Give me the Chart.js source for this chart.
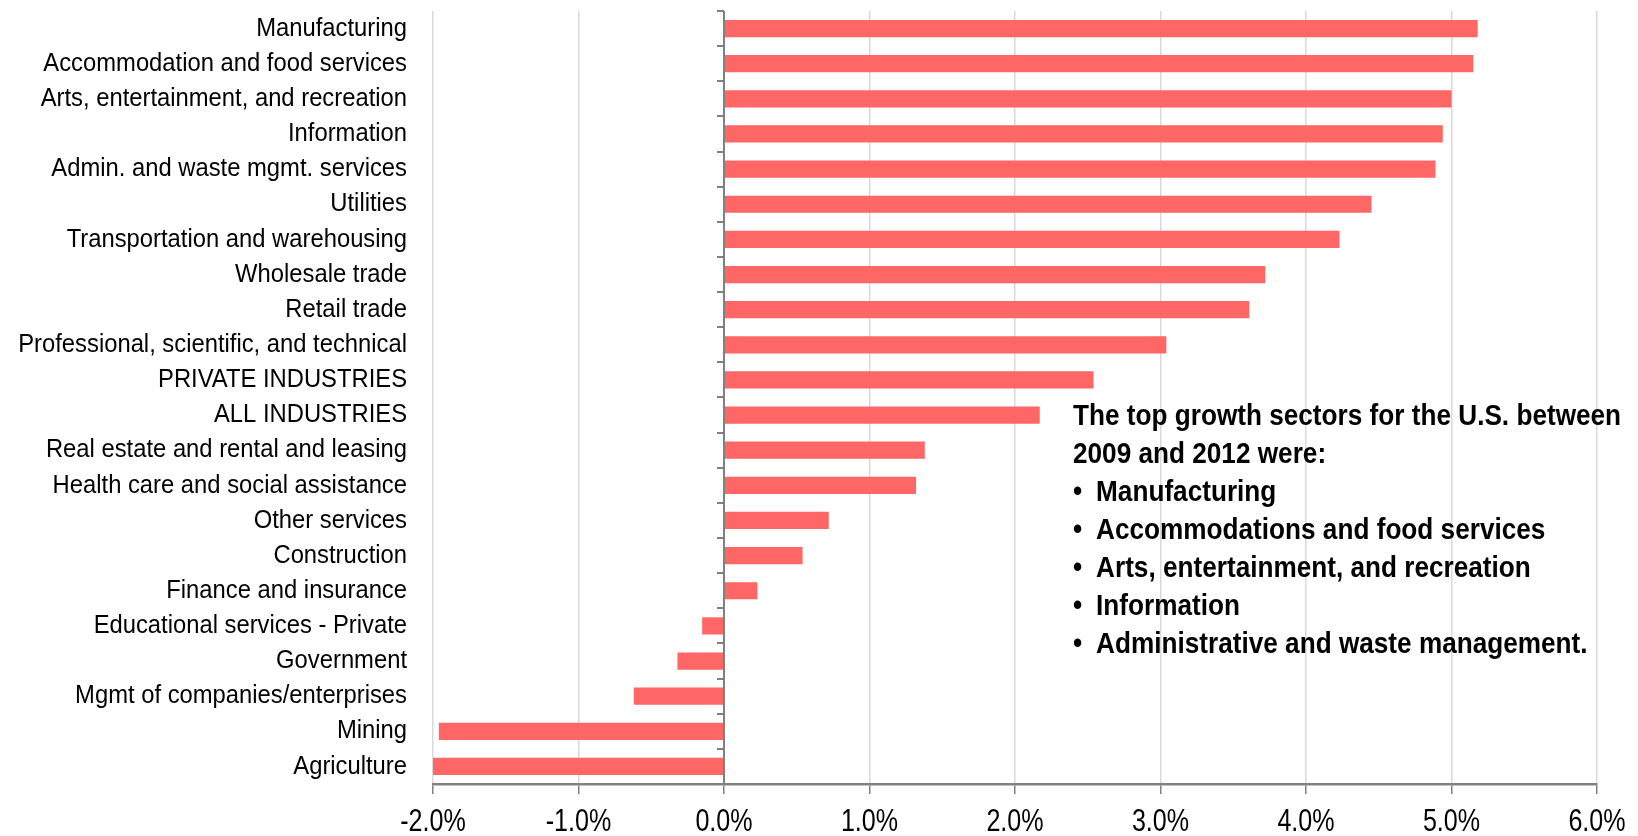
<!DOCTYPE html>
<html>
<head>
<meta charset="utf-8">
<script src="https://cdn.jsdelivr.net/npm/chart.js@4/dist/chart.umd.min.js"></script>
<style>
  html, body { margin: 0; padding: 0; background: #fff; }
  #wrap { position: relative; width: 1638px; height: 836px; }
  #note {
    position: absolute; left: 1073px; top: 396px;
    font-family: "Liberation Sans", Arial, sans-serif;
    font-weight: bold; font-size: 29.5px; line-height: 38px; color: #000;
    white-space: nowrap;
    transform: scaleX(0.887); transform-origin: 0 0;
  }
  #note ul { margin: 0; padding: 0; list-style: none; }
  #note li::before { content: "\2022"; display: inline-block; width: 26px; }
</style>
</head>
<body>
<div id="wrap">
  <canvas id="c"></canvas>
  <div id="note">
    The top growth sectors for the U.S. between<br>
    2009 and 2012 were:
    <ul>
      <li>Manufacturing</li>
      <li>Accommodations and food services</li>
      <li>Arts, entertainment, and recreation</li>
      <li>Information</li>
      <li>Administrative and waste management.</li>
    </ul>
  </div>
</div>
<script>
// Real GDP growth by industry, 2009-2012 (percent)
const sectors = [
  "Manufacturing",
  "Accommodation and food services",
  "Arts, entertainment, and recreation",
  "Information",
  "Admin. and waste mgmt. services",
  "Utilities",
  "Transportation and warehousing",
  "Wholesale trade",
  "Retail trade",
  "Professional, scientific, and technical",
  "PRIVATE INDUSTRIES",
  "ALL INDUSTRIES",
  "Real estate and rental and leasing",
  "Health care and social assistance",
  "Other services",
  "Construction",
  "Finance and insurance",
  "Educational services - Private",
  "Government",
  "Mgmt of companies/enterprises",
  "Mining",
  "Agriculture"
];
const growth = [
  5.18, 5.15, 5.00, 4.94, 4.89, 4.45, 4.23, 3.72, 3.61, 3.04, 2.54,
  2.17, 1.38, 1.32, 0.72, 0.54, 0.23, -0.15, -0.32, -0.62, -1.96, -2.00
];
const xMin = -2, xMax = 6, xStep = 1;

const FONT = '"Liberation Sans", Arial, sans-serif';
const AXIS_GRAY = '#808080';
const GRID_GRAY = '#d9d9d9';

// Draw an axis' tick labels horizontally condensed (narrow type look)
function condenseLabels(scale, sx) {
  if (!scale || scale.$condensed === sx) return;
  const base = Object.getPrototypeOf(scale).drawLabels;
  scale._computeLabelArea = () => undefined;
  scale.drawLabels = function (area) {
    const items = this.getLabelItems(area);
    const xs = items.map(it => it.options.translation[0]);
    items.forEach(it => { it.options.translation[0] = it.options.translation[0] / sx; });
    const ctx = this.ctx;
    ctx.save();
    ctx.scale(sx, 1);
    base.call(this, area);
    ctx.restore();
    items.forEach((it, i) => { it.options.translation[0] = xs[i]; });
  };
  scale.$condensed = sx;
}

const narrowTicks = {
  id: 'narrowTicks',
  beforeDraw(chart) {
    condenseLabels(chart.scales.y, 0.915);
    condenseLabels(chart.scales.x, 0.81);
  }
};

// Zero line with small tick marks at each category boundary
const zeroAxis = {
  id: 'zeroAxis',
  afterDatasetsDraw(chart) {
    const { ctx, chartArea, scales: { x, y } } = chart;
    const x0 = Math.round(x.getPixelForValue(0));
    const n = sectors.length;
    const band = y.getPixelForValue(1) - y.getPixelForValue(0);
    ctx.save();
    ctx.strokeStyle = AXIS_GRAY;
    ctx.lineWidth = 2;
    ctx.beginPath();
    ctx.moveTo(x0, chartArea.top);
    ctx.lineTo(x0, chartArea.bottom);
    for (let i = 0; i <= n; i++) {
      const yy = Math.round(y.getPixelForValue(0) - band / 2 + i * band);
      ctx.moveTo(x0 - 7, yy);
      ctx.lineTo(x0, yy);
    }
    ctx.stroke();
    ctx.restore();
  }
};

new Chart(document.getElementById('c'), {
  type: 'bar',
  data: {
    labels: sectors,
    datasets: [{
      data: growth,
      backgroundColor: '#ff6666',
      borderWidth: 0,
      barPercentage: 0.98,
      categoryPercentage: 0.5
    }]
  },
  options: {
    indexAxis: 'y',
    responsive: true,
    maintainAspectRatio: false,
    animation: false,
    layout: { padding: { top: 11, right: 0, left: 0, bottom: 0 } },
    plugins: { legend: { display: false }, tooltip: { enabled: false } },
    scales: {
      x: {
        min: xMin, max: xMax,
        afterFit(scale) {
          scale.height = 52;
          scale.paddingLeft = 0;
          scale.paddingRight = 41;
        },
        ticks: {
          stepSize: xStep,
          color: '#000',
          font: { family: FONT, size: 31 },
          padding: 10,
          callback: v => v.toFixed(1) + '%'
        },
        grid: {
          color: ctx => (ctx.tick && ctx.tick.value === 0) ? 'rgba(0,0,0,0)' : GRID_GRAY,
          lineWidth: 1.5,
          tickColor: AXIS_GRAY,
          tickLength: 10
        },
        border: { color: AXIS_GRAY, width: 2.5 }
      },
      y: {
        afterFit(scale) {
          scale.width = 433;
          scale.paddingTop = 0;
          scale.paddingBottom = 0;
        },
        ticks: {
          color: '#000',
          font: { family: FONT, size: 26 },
          padding: 26,
          autoSkip: false
        },
        grid: { display: false, drawTicks: false },
        border: { display: false }
      }
    }
  },
  plugins: [narrowTicks, zeroAxis]
});
</script>
</body>
</html>
